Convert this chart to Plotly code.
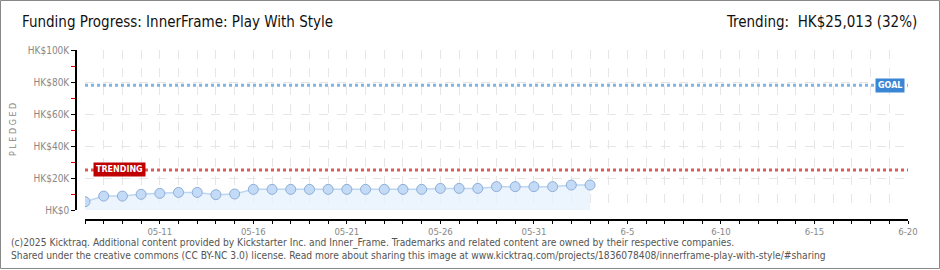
import plotly.graph_objects as go
import pandas as pd

# ---- data ----
dates = ["2025-05-07", "2025-05-08", "2025-05-09", "2025-05-10", "2025-05-11", "2025-05-12",
         "2025-05-13", "2025-05-14", "2025-05-15", "2025-05-16", "2025-05-17", "2025-05-18",
         "2025-05-19", "2025-05-20", "2025-05-21", "2025-05-22", "2025-05-23", "2025-05-24",
         "2025-05-25", "2025-05-26", "2025-05-27", "2025-05-28", "2025-05-29", "2025-05-30",
         "2025-05-31", "2025-06-01", "2025-06-02", "2025-06-03"]
pledged = [5200, 8700, 8700, 9800, 10400, 11000, 11000, 9600, 10000, 12900, 12900, 12900,
           12900, 12900, 12900, 12900, 12900, 12900, 12900, 13500, 13500, 13500, 14600, 14600,
           14600, 14600, 15600, 15600]
goal = 78000
trending = 25013

x_start = "2025-05-07"
x_end = "2025-06-20"
x_label_dates = ["2025-05-11", "2025-05-16", "2025-05-21", "2025-05-26", "2025-05-31",
                 "2025-06-05", "2025-06-10", "2025-06-15", "2025-06-20"]
x_labels = ["05-11", "05-16", "05-21", "05-26", "05-31", "6-5", "6-10", "6-15", "6-20"]
y_tick_vals = [0, 20000, 40000, 60000, 80000, 100000]
y_tick_text = ["HK$0", "HK$20K", "HK$40K", "HK$60K", "HK$80K", "HK$100K"]
y_minor_vals = [10000, 30000, 50000, 70000, 90000]

title = "Funding Progress: InnerFrame: Play With Style"
trend_text = "Trending:  HK$25,013 (32%)"
footer1 = ("(c)2025 Kicktraq. Additional content provided by Kickstarter Inc. and Inner_Frame. "
           "Trademarks and related content are owned by their respective companies.")
footer2 = ("Shared under the creative commons (CC BY-NC 3.0) license. Read more about sharing this "
           "image at www.kicktraq.com/projects/1836078408/innerframe-play-with-style/#sharing")

# ---- axis ticks ----
all_days = pd.date_range(x_start, x_end).strftime("%Y-%m-%d").tolist()
label_map = dict(zip(x_label_dates, x_labels))
x_tick_text = [label_map.get(d, "") for d in all_days]

FONT = "Liberation Sans Narrow, DejaVu Sans Condensed, Roboto, sans-serif"

W, H = 940, 270
ML, MR, MT, MB = 76, 32, 50, 50
pw, ph = W - ML - MR, H - MT - MB


def px_x(px):
    return (px - ML) / pw


def px_y(py):
    return 1 - (py - MT) / ph


fig = go.Figure()
fig.add_trace(go.Scatter(
    x=dates, y=pledged, mode="lines+markers",
    line=dict(color="#bcd6f2", width=1.5),
    fill="tozeroy", fillcolor="rgba(230,240,253,0.75)",
    marker=dict(size=10, color="#c3dbf6", line=dict(color="#8eaed6", width=1)),
    hoverinfo="x+y", showlegend=False,
))

# goal / trending lines
fig.add_trace(go.Scatter(
    x=[x_start, x_end], y=[goal, goal], mode="lines",
    line=dict(color="#7db4ea", width=3, dash="dot"), hoverinfo="skip", showlegend=False))
fig.add_trace(go.Scatter(
    x=[x_start, x_end], y=[trending, trending], mode="lines",
    line=dict(color="#dd5a5a", width=3, dash="dot"), hoverinfo="skip", showlegend=False))

fig.add_annotation(x=1, xref="paper", y=goal, yref="y", xanchor="right", xshift=-3,
                   text="<b>GOAL</b>", showarrow=False,
                   font=dict(family="DejaVu Sans", size=8, color="white"),
                   bgcolor="#3a86d4", borderpad=2)
fig.add_annotation(x=x_start, xref="x", y=trending, yref="y", xanchor="left", xshift=8,
                   text="<b>TRENDING</b>", showarrow=False,
                   font=dict(family="DejaVu Sans", size=8, color="white"),
                   bgcolor="#c00000", borderpad=2)

# titles and footer (placed in paper coords)
fig.add_annotation(x=px_x(20), y=px_y(22), xref="paper", yref="paper", xanchor="left",
                   yanchor="middle", text=title, showarrow=False,
                   font=dict(family=FONT, size=15, color="#111"))
fig.add_annotation(x=px_x(919), y=px_y(22), xref="paper", yref="paper", xanchor="right",
                   yanchor="middle", text=trend_text, showarrow=False,
                   font=dict(family=FONT, size=15, color="#111"))
fig.add_annotation(x=px_x(13), y=px_y(130), xref="paper", yref="paper", xanchor="center",
                   yanchor="middle", text="P L E D G E D", textangle=-90, showarrow=False,
                   font=dict(family="DejaVu Sans", size=8, color="#888"))
fig.add_annotation(x=px_x(9), y=px_y(243), xref="paper", yref="paper", xanchor="left",
                   yanchor="middle", text=footer1, showarrow=False,
                   font=dict(family=FONT, size=10.2, color="#555"))
fig.add_annotation(x=px_x(9), y=px_y(256), xref="paper", yref="paper", xanchor="left",
                   yanchor="middle", text=footer2, showarrow=False,
                   font=dict(family=FONT, size=10.2, color="#555"))

# border
fig.add_shape(type="rect", xref="paper", yref="paper",
              x0=px_x(0.5), x1=px_x(W - 0.5), y0=px_y(0.5), y1=px_y(H - 1.5),
              line=dict(color="#888", width=1))

fig.update_layout(
    width=W, height=H, margin=dict(l=ML, r=MR, t=MT, b=MB),
    paper_bgcolor="white", plot_bgcolor="white",
    xaxis=dict(
        type="date", range=[x_start, x_end], domain=[9 / pw, 1],
        anchor="free", position=0,
        tickmode="array", tickvals=all_days, ticktext=x_tick_text,
        ticks="outside", ticklen=3, tickcolor="#000", tickwidth=1,
        showline=True, linecolor="#000", linewidth=1.5,
        showgrid=True, gridcolor="#e6e6e6", griddash="dash", gridwidth=1,
        tickfont=dict(family=FONT, size=9.5, color="#888"), zeroline=False,
    ),
    yaxis=dict(
        range=[0, 100000], domain=[10 / ph, 1], anchor="free", position=0,
        tickmode="array", tickvals=y_tick_vals, ticktext=y_tick_text,
        ticks="outside", ticklen=4, tickcolor="#000",
        minor=dict(tickmode="array", tickvals=y_minor_vals, ticks="outside", ticklen=4,
                   tickcolor="#e00000", showgrid=False),
        showline=True, linecolor="#000", linewidth=1.5,
        showgrid=True, gridcolor="#e6e6e6", griddash="dash",
        tickfont=dict(family=FONT, size=10, color="#888"), zeroline=False,
    ),
)

fig.write_html("out.html")
